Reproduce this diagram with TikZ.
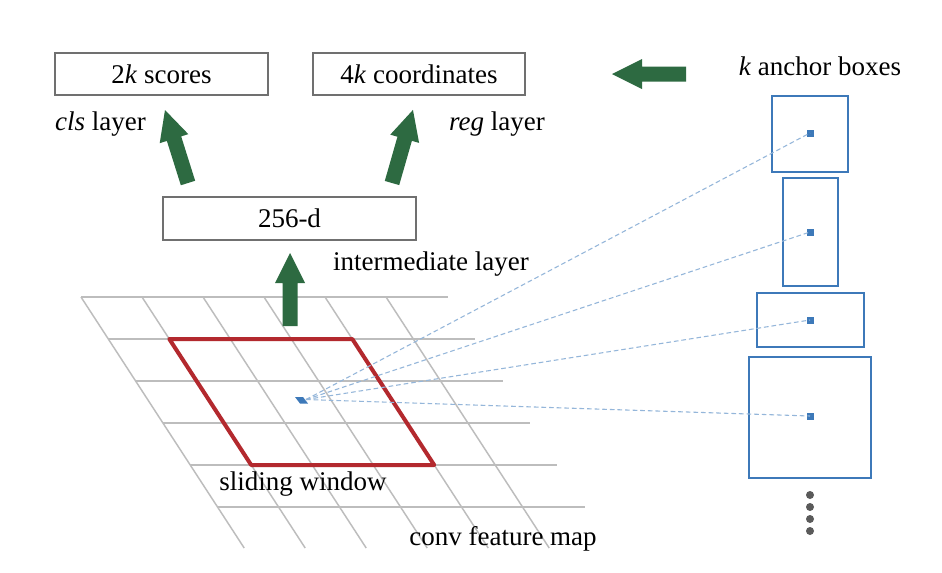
\documentclass[tikz,border=0pt]{standalone}
\usepackage{fontspec}
\setmainfont{Liberation Serif}
\definecolor{boxgray}{HTML}{707070}
\definecolor{gridgray}{HTML}{BDBDBD}
\definecolor{winred}{HTML}{B3292E}
\definecolor{anchorblue}{HTML}{3D79B9}
\definecolor{dashblue}{HTML}{94B6DA}
\definecolor{arrowgreen}{HTML}{2D6A41}
\definecolor{dotgray}{HTML}{5A5A5A}
\newcommand\garrow[4]{%
  \begin{scope}[shift={(#1,#2)}, rotate=#3]
    \fill[arrowgreen] (0,-7.5) -- (#4-30,-7.5) -- (#4-30,-15) -- (#4,0) -- (#4-30,15) -- (#4-30,7.5) -- (0,7.5) -- cycle;
  \end{scope}}
\begin{document}
\begin{tikzpicture}[x=0.75pt,y=-0.75pt, font=\fontsize{20.25}{24}\selectfont,
  tbox/.style={draw=boxgray, line width=1.1pt, inner sep=0pt},
  lbl/.style={anchor=base, inner sep=0pt},
  abox/.style={draw=anchorblue, line width=1.5pt, inner sep=0pt},
  adot/.style={fill=anchorblue, minimum size=5.25pt, inner sep=0pt},
  vdot/.style={circle, fill=dotgray, minimum size=6pt, inner sep=0pt},
  gline/.style={draw=gridgray, line width=1.1pt},
  dline/.style={draw=dashblue, line width=0.8pt, dash pattern=on 3.5pt off 2.2pt}]
\fill[white] (0,0) rectangle (942,572);
\useasboundingbox (0,0) rectangle (942,572);
% grid
\foreach \i in {0,...,5}{
  \draw[gline] (81+27.3*\i,297+42*\i) -- (448+27.3*\i,297+42*\i);
}
\foreach \j in {0,...,5}{
  \draw[gline] (81+61*\j,297) -- (81+61*\j+163.2,548);
}
% sliding window
\draw[winred, line width=3pt, line join=round] (169.3,339) -- (352.3,339) -- (434.2,465) -- (251.2,465) -- cycle;
\fill[anchorblue] (295,397) -- (303,397) -- (308,403.5) -- (300,403.5) -- cycle;
\coordinate (src) at (306,399.5);
% anchor boxes
\node[abox, minimum width=57pt, minimum height=57pt] (a1) at (810,133.5) {};
\node[abox, minimum width=41.25pt, minimum height=81pt] (a2) at (810.5,232) {};
\node[abox, minimum width=80.25pt, minimum height=40.5pt] (a3) at (810.5,320) {};
\node[abox, minimum width=91.5pt, minimum height=90.75pt] (a4) at (810,417.5) {};
\node[adot] (d1) at (810,133) {};
\node[adot] (d2) at (810,232) {};
\node[adot] (d3) at (810,320) {};
\node[adot] (d4) at (810,416) {};
\foreach \k in {1,...,4}{
  \draw[dline] (src) -- (d\k.center);
}
\foreach \y [count=\n] in {495,507,519,531}{
  \node[vdot] (v\n) at (810,\y) {};
}
% text boxes
\node[tbox, minimum width=159.75pt, minimum height=31.5pt] (scores) at (161.5,74) {2\textit{k} scores};
\node[tbox, minimum width=159pt, minimum height=31.5pt] (coords) at (419,74) {4\textit{k} coordinates};
\node[tbox, minimum width=189.75pt, minimum height=32.25pt] (d256) at (289.5,218.5) {256-d};
% green arrows
\garrow{188}{183}{107.5}{76.5}
\garrow{392}{183}{74}{76}
\garrow{290}{326}{90}{73}
\garrow{686}{74}{180}{74}
% labels
\node[lbl] (cls) at (100.5,130) {\textit{cls} layer};
\node[lbl] (reg) at (497,130) {\textit{reg} layer};
\node[lbl] (inter) at (431,270) {intermediate layer};
\node[lbl] (slide) at (303,490) {sliding window};
\node[lbl] (conv) at (503,545) {conv feature map};
\node[lbl] (kab) at (820,75) {\textit{k} anchor boxes};
\end{tikzpicture}
\end{document}
